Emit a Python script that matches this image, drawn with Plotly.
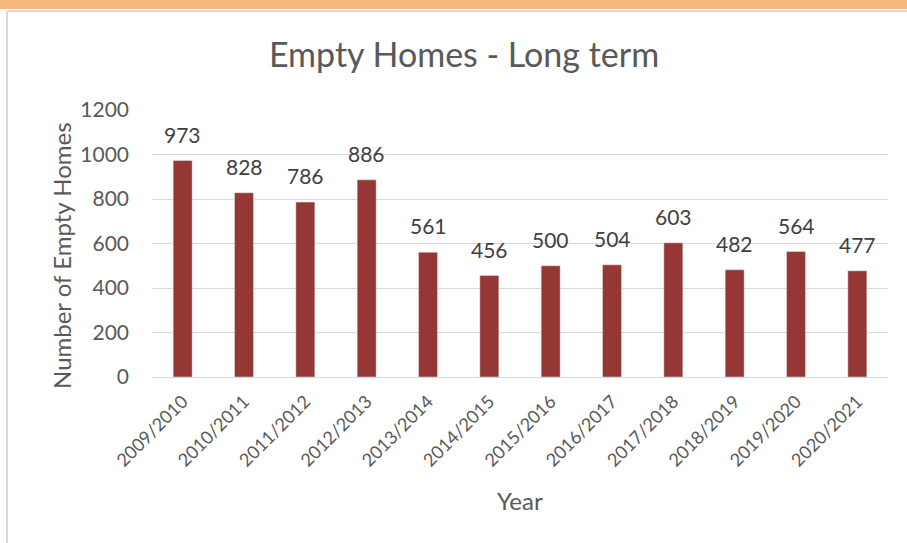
import plotly.graph_objects as go

# Data
years = ['2009/2010', '2010/2011', '2011/2012', '2012/2013', '2013/2014', '2014/2015',
         '2015/2016', '2016/2017', '2017/2018', '2018/2019', '2019/2020', '2020/2021']
empty_homes = [973, 828, 786, 886, 561, 456, 500, 504, 603, 482, 564, 477]
y_ticks = [0, 200, 400, 600, 800, 1000, 1200]

font_name = 'Lato, Carlito, Calibri, sans-serif'
grey = '#595959'
bar_color = '#953735'

fig = go.Figure(go.Bar(
    x=years,
    y=empty_homes,
    marker_color=bar_color,
    hoverinfo='x+y',
))

# value labels sitting above each bar
for year, value in zip(years, empty_homes):
    fig.add_annotation(x=year, y=value, text=str(value), showarrow=False,
                       yanchor='bottom', yshift=12,
                       font=dict(size=21, color='#404040'))

fig.update_layout(
    width=907, height=543,
    margin=dict(l=152, r=19, t=110, b=166),
    paper_bgcolor='white', plot_bgcolor='white',
    font=dict(family=font_name, color=grey),
    bargap=0.69,
    showlegend=False,
    title=dict(text='Empty Homes - Long term', x=0.5116, xanchor='center',
               y=0.899, yanchor='middle', font=dict(size=34, color=grey)),
)

fig.update_yaxes(
    range=[0, 1200], tickvals=y_ticks, showgrid=True, gridcolor='#D9D9D9',
    zeroline=False, showline=False, tickfont=dict(size=21, color=grey),
    ticklabelstandoff=22, automargin=False,
)
fig.update_xaxes(
    tickangle=-45, tickfont=dict(size=18, color=grey), showline=True,
    linecolor='#D9D9D9', linewidth=1, ticks='', automargin=False,
    ticklabelstandoff=6,
)

# axis titles
fig.add_annotation(text='Number of Empty Homes', xref='paper', yref='paper',
                   x=-0.1223, y=0.457, xanchor='center', yanchor='middle',
                   textangle=-90, showarrow=False, font=dict(size=24, color=grey))
fig.add_annotation(text='Year', xref='paper', yref='paper', x=0.5, y=-0.461,
                   xanchor='center', yanchor='middle', showarrow=False,
                   font=dict(size=24, color=grey))

# orange band across the top and the thin frame of the chart box
fig.add_shape(type='rect', xref='paper', yref='paper', x0=-0.25, x1=1.1,
              y0=1 + 101 / 267, y1=1.5, fillcolor='#F4B77E', line_width=0, layer='below')
fig.add_shape(type='line', xref='paper', yref='paper', x0=-0.197, x1=1.1,
              y0=1 + 99 / 267, y1=1 + 99 / 267, line=dict(color='#D9D9D9', width=2))
fig.add_shape(type='line', xref='paper', yref='paper', x0=-0.197, x1=-0.197,
              y0=-0.7, y1=1 + 99 / 267, line=dict(color='#D9D9D9', width=2))

# drop the default page margin so the figure sits at the window's corner
fig.write_html("out.html", config={'displayModeBar': False},
               post_script="document.body.style.margin='0';")
